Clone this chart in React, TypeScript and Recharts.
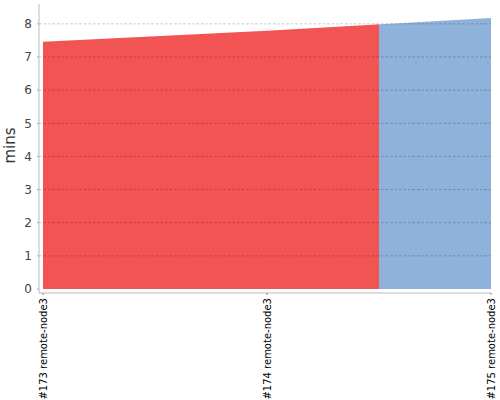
import React from 'react';
import { AreaChart, Area, XAxis, YAxis, ReferenceLine, Label } from 'recharts';

const builds = ['#173 remote-node3', '#174 remote-node3', '#175 remote-node3'];
const durations = [7.46, 7.79, 8.18];
const statuses = ['failed', 'failed', 'success'];
const yTicks = [0, 1, 2, 3, 4, 5, 6, 7, 8];
const yMax = 8.6;

const data = builds.map((b, i) => ({ build: b, mins: durations[i], status: statuses[i] }));

const RED = '#F25454';
const BLUE = '#8EB2D9';
const colorOf = (s: string) => (s === 'success' ? BLUE : RED);

// gradient stops: each build's colour spans from midpoint before to midpoint after
const n = data.length;
const stops: { offset: number; color: string }[] = [];
data.forEach((d, i) => {
  const start = i === 0 ? 0 : (i - 0.5) / (n - 1);
  const end = i === n - 1 ? 1 : (i + 0.5) / (n - 1);
  stops.push({ offset: start, color: colorOf(d.status) });
  stops.push({ offset: end, color: colorOf(d.status) });
});

const FONT = '"DejaVu Sans", sans-serif';

const XTick = (props: any) => {
  const { x, y, payload } = props;
  return (
    <g transform={`translate(${x},${y})`}>
      <text
        transform="rotate(-90)"
        textAnchor="end"
        dominantBaseline="central"
        fontSize={10}
        fontFamily={FONT}
        fill="#000"
      >
        {payload.value}
      </text>
    </g>
  );
};

const renderYLabel = (props: any) => {
  const vb = props.viewBox || {};
  const cx = (vb.x ?? 0) + 10;
  const cy = (vb.y ?? 0) + (vb.height ?? 0) / 2 - 3;
  return (
    <g transform={`translate(${cx},${cy})`}>
      <text
        transform="rotate(-90)"
        textAnchor="middle"
        dominantBaseline="central"
        fontSize={15}
        fontFamily={FONT}
        fill="#333"
      >
        mins
      </text>
    </g>
  );
};

export default function App() {
  return (
    <div style={{ position: 'absolute', left: 0, top: 0, background: '#fff' }}>
      <AreaChart width={500} height={400} data={data} margin={{ top: 4, right: 9, left: 0, bottom: 0 }}>
        <defs>
          <linearGradient id="buildFill" x1="0" y1="0" x2="1" y2="0">
            {stops.map((s, i) => (
              <stop key={i} offset={s.offset} stopColor={s.color} />
            ))}
          </linearGradient>
        </defs>
        <XAxis
          dataKey="build"
          interval={0}
          padding={{ left: 4, right: 0 }}
          height={107}
          tick={<XTick />}
          tickSize={2}
          tickMargin={3}
          axisLine={{ stroke: '#bbb' }}
          tickLine={{ stroke: '#888' }}
        />
        <YAxis
          width={39}
          domain={[0, yMax]}
          ticks={yTicks}
          padding={{ top: 0, bottom: 4 }}
          tickSize={2}
          tickMargin={5}
          tickLine={{ stroke: '#aaa' }}
          axisLine={{ stroke: '#bbb' }}
          tick={{ fontSize: 12, fill: '#444', fontFamily: FONT }}
        >
          <Label content={renderYLabel} />
        </YAxis>
        <Area
          type="linear"
          dataKey="mins"
          stroke="none"
          fill="url(#buildFill)"
          fillOpacity={1}
          isAnimationActive={false}
          dot={false}
          activeDot={false}
        />
        {yTicks.filter((t) => t > 0).map((t) => (
          <ReferenceLine
            key={t}
            y={t}
            stroke="#000"
            strokeOpacity={0.22}
            strokeDasharray="2.5 2"
          />
        ))}
      </AreaChart>
    </div>
  );
}
